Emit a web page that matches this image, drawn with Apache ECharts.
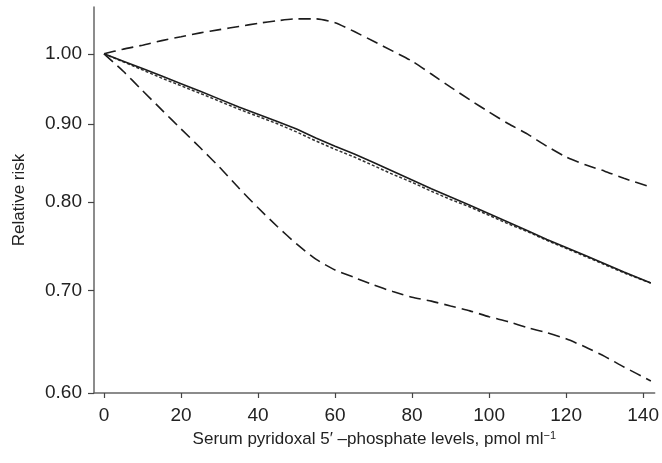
<!DOCTYPE html>
<html>
<head>
<meta charset="utf-8">
<script src="https://cdn.jsdelivr.net/npm/echarts@6/dist/echarts.min.js"></script>
<style>
html,body{margin:0;padding:0;background:#fff;}
#chart{width:662px;height:463px;}
</style>
</head>
<body>
<div id="chart"></div>
<script>
// Serum PLP level (pmol/ml)
var dose = [0,5,10,15,20,25,30,35,40,45,50,55,60,65,70,75,80,85,90,95,100,105,110,115,120,125,130,135,142];
// Upper confidence limit (long dashes)
var upperCI = [1.000,1.007,1.013,1.020,1.026,1.032,1.037,1.042,1.047,1.051,1.054,1.054,1.048,1.034,1.019,1.004,0.989,0.970,0.951,0.933,0.916,0.900,0.886,0.870,0.856,0.846,0.838,0.829,0.818];
// Estimated relative risk (solid)
var estimate = [1.000,0.989,0.978,0.967,0.956,0.945,0.934,0.923,0.913,0.903,0.893,0.881,0.870,0.860,0.849,0.838,0.827,0.816,0.806,0.796,0.786,0.776,0.766,0.756,0.747,0.738,0.729,0.720,0.708];
// Linear trend (short dashes)
var linearFit = [1.000,0.988,0.976,0.964,0.953,0.942,0.931,0.920,0.910,0.900,0.889,0.877,0.866,0.856,0.845,0.834,0.824,0.813,0.803,0.794,0.784,0.774,0.765,0.755,0.746,0.737,0.728,0.719,0.708];
// Lower confidence limit (long dashes)
var lowerCI = [1.000,0.974,0.946,0.919,0.893,0.868,0.843,0.817,0.793,0.771,0.751,0.734,0.722,0.714,0.706,0.699,0.693,0.689,0.684,0.679,0.673,0.668,0.662,0.657,0.651,0.643,0.634,0.624,0.611];
// Tick labels
var xTicks = [0,20,40,60,80,100,120,140];
var yTicks = [0.6,0.7,0.8,0.9,1.0];

function pairs(ys){ return dose.map(function(x,i){ return [x, ys[i]]; }); }

var chart = echarts.init(document.getElementById('chart'), null, {renderer:'canvas'});
var font = 'Liberation Sans, Arial, Helvetica, sans-serif';
var lineColor = '#1c1c1c';

chart.setOption({
  animation: false,
  backgroundColor: '#ffffff',
  grid: {left: 94, top: 7, right: 5, bottom: 70, containLabel: false},
  xAxis: {
    type: 'value',
    min: -2.6,
    max: 143,
    name: 'Serum pyridoxal 5\u2032 \u2013phosphate levels, pmol ml{sup|\u22121}',
    nameLocation: 'middle',
    nameGap: 37,
    nameTextStyle: {
      fontFamily: font, fontSize: 17, color: '#222',
      rich: { sup: {fontFamily: font, fontSize: 11, color: '#222', verticalAlign: 'top', padding: [0,0,8,0]} }
    },
    axisLine: {onZero: false, lineStyle: {color: '#666', width: 1.5}},
    axisTick: {customValues: xTicks, length: 5, lineStyle: {color: '#444', width: 1.2}},
    axisLabel: {customValues: xTicks, margin: 13, fontFamily: font, fontSize: 19, color: '#222'},
    splitLine: {show: false}
  },
  yAxis: {
    type: 'log',
    logBase: 10,
    min: 0.6,
    max: 1.073,
    name: 'Relative risk',
    nameLocation: 'middle',
    nameGap: 66,
    nameRotate: 90,
    nameTextStyle: {fontFamily: font, fontSize: 17, color: '#222'},
    axisLine: {onZero: false, lineStyle: {color: '#666', width: 1.5}},
    axisTick: {customValues: yTicks, length: 6, lineStyle: {color: '#444', width: 1.2}},
    axisLabel: {customValues: yTicks, margin: 12, fontFamily: font, fontSize: 19, color: '#222',
      formatter: function(v){ return Number(v).toFixed(2); }},
    splitLine: {show: false}
  },
  series: [
    {type: 'line', data: pairs(upperCI), showSymbol: false, smooth: 0.2,
      lineStyle: {color: lineColor, width: 1.6, type: [12,6]}},
    {type: 'line', data: pairs(lowerCI), showSymbol: false, smooth: 0.2,
      lineStyle: {color: lineColor, width: 1.6, type: [12,6]}},
    {type: 'line', data: pairs(linearFit), showSymbol: false,
      lineStyle: {color: '#333', width: 1.5, type: [3,2]}},
    {type: 'line', data: pairs(estimate), showSymbol: false,
      lineStyle: {color: lineColor, width: 1.6, type: 'solid'}}
  ]
});
</script>
</body>
</html>
